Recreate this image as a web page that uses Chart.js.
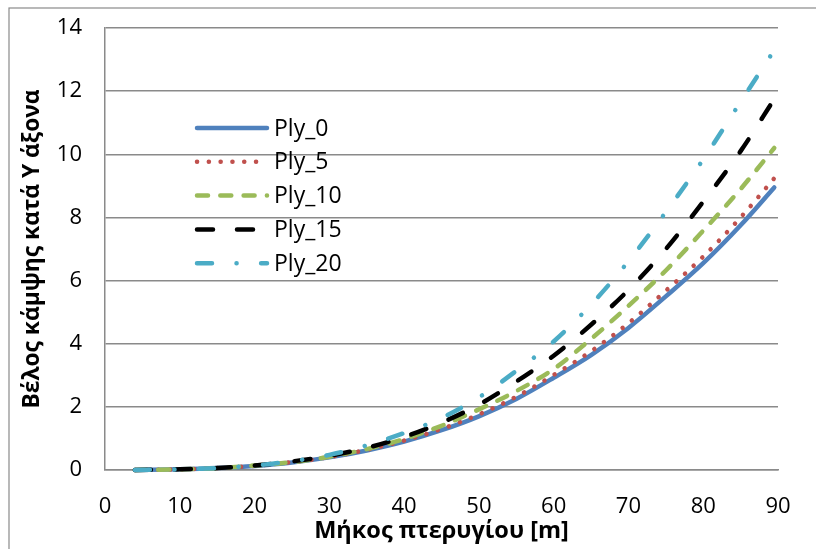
<!DOCTYPE html>
<html>
<head>
<meta charset="utf-8">
<script src="https://cdn.jsdelivr.net/npm/chart.js@4/dist/chart.umd.min.js"></script>
<style>
  html, body { margin: 0; padding: 0; background: #ffffff; }
  #wrap { width: 816px; height: 549px; position: relative; }
</style>
</head>
<body>
<div id="wrap"><canvas id="c" width="816" height="549"></canvas></div>
<script>
// Span positions along the blade [m]
const spanPositions = [4, 10, 15, 20, 25, 30, 35, 40, 45, 50, 55, 60, 65, 70, 75, 80, 85, 89.5];

// Deflection along the Y axis for each ply configuration
const ply0  = [0.00, 0.02, 0.06, 0.13, 0.24, 0.40, 0.62, 0.90, 1.26, 1.70, 2.25, 2.92, 3.64, 4.50, 5.50, 6.55, 7.75, 8.95];
const ply5  = [0.00, 0.02, 0.06, 0.13, 0.25, 0.41, 0.64, 0.93, 1.30, 1.76, 2.32, 3.01, 3.76, 4.65, 5.68, 6.76, 8.00, 9.24];
const ply10 = [0.00, 0.02, 0.06, 0.14, 0.25, 0.42, 0.66, 0.98, 1.40, 1.92, 2.50, 3.20, 4.15, 5.20, 6.32, 7.58, 8.90, 10.20];
const ply15 = [0.00, 0.02, 0.06, 0.14, 0.27, 0.45, 0.70, 1.05, 1.50, 2.07, 2.80, 3.62, 4.60, 5.70, 7.00, 8.50, 10.10, 11.75];
const ply20 = [0.00, 0.02, 0.06, 0.14, 0.28, 0.48, 0.78, 1.17, 1.65, 2.30, 3.14, 4.07, 5.24, 6.61, 8.17, 9.84, 11.66, 13.30];

const seriesNames = ['Ply_0', 'Ply_5', 'Ply_10', 'Ply_15', 'Ply_20'];
const seriesValues = [ply0, ply5, ply10, ply15, ply20];

// Axis tick labels
const xTickValues = [0, 10, 20, 30, 40, 50, 60, 70, 80, 90];
const yTickValues = [0, 2, 4, 6, 8, 10, 12, 14];

const xTitle = 'Μήκος πτερυγίου [m]';
const yTitle = 'Βέλος κάμψης κατά Υ άξονα';

// Line styles per series
const lineStyles = [
  { color: '#4F81BD', dash: [] },
  { color: '#C0504D', dash: [0.1, 11.7] },
  { color: '#9BBB59', dash: [11, 12.3] },
  { color: '#000000', dash: [16, 24] },
  { color: '#4BACC6', dash: [15, 24.5, 0.1, 24.5] }
];

const FONT = '"Open Sans", "Noto Sans", "DejaVu Sans", sans-serif';
const GRID = '#8a8a8a';

const datasets = seriesNames.map((name, i) => ({
  label: name,
  data: spanPositions.map((x, k) => ({ x: x, y: seriesValues[i][k] })),
  borderColor: lineStyles[i].color,
  backgroundColor: lineStyles[i].color,
  borderWidth: 4.5,
  borderDash: lineStyles[i].dash,
  borderCapStyle: 'round',
  borderJoinStyle: 'round',
  pointRadius: 0,
  pointHoverRadius: 0,
  cubicInterpolationMode: 'monotone',
  fill: false,
  clip: 8,
  order: seriesNames.length - i
}));

// Outer chart border (left and top edges visible)
const frame = {
  id: 'frame',
  beforeDraw(chart) {
    const ctx = chart.ctx;
    ctx.save();
    ctx.fillStyle = '#ffffff';
    ctx.fillRect(0, 0, chart.width, chart.height);
    ctx.strokeStyle = GRID;
    ctx.lineWidth = 1.2;
    ctx.strokeRect(9, 8, chart.width + 20, chart.height + 20);
    ctx.restore();
  }
};

// Legend drawn inside the plot area
const insideLegend = {
  id: 'insideLegend',
  afterDatasetsDraw(chart) {
    const ctx = chart.ctx;
    const x0 = 197, x1 = 267, tx = 274, y0 = 128, dy = 33.8;
    chart.data.datasets.forEach((ds, i) => {
      const y = y0 + i * dy;
      ctx.save();
      ctx.strokeStyle = ds.borderColor;
      ctx.lineWidth = ds.borderWidth;
      ctx.lineCap = 'round';
      ctx.setLineDash(ds.borderDash || []);
      ctx.beginPath();
      ctx.moveTo(x0, y);
      ctx.lineTo(x1, y);
      ctx.stroke();
      ctx.setLineDash([]);
      ctx.fillStyle = '#000000';
      ctx.font = '23px ' + FONT;
      ctx.textBaseline = 'middle';
      ctx.textAlign = 'left';
      ctx.fillText(ds.label, tx, y + 1);
      ctx.restore();
    });
  }
};

new Chart(document.getElementById('c'), {
  type: 'line',
  data: { datasets: datasets },
  plugins: [frame, insideLegend],
  options: {
    responsive: false,
    devicePixelRatio: 1,
    animation: false,
    events: [],
    layout: { padding: { left: 0, top: 28, right: 38, bottom: 0 } },
    plugins: {
      legend: { display: false },
      tooltip: { enabled: false },
      title: { display: false }
    },
    scales: {
      x: {
        type: 'linear',
        min: 0,
        max: 90,
        afterBuildTicks(scale) { scale.ticks = xTickValues.map(v => ({ value: v })); },
        afterFit(scale) {
          scale.height = 79;
          scale.paddingLeft = 0;
          scale.paddingRight = 0;
        },
        grid: { display: false, drawTicks: false },
        border: { display: true, color: GRID, width: 1.5 },
        ticks: { color: '#000000', font: { family: FONT, size: 22 }, padding: 24, maxRotation: 0 },
        title: {
          display: true,
          text: xTitle,
          color: '#000000',
          font: { family: FONT, size: 23.5, weight: 'bold' },
          padding: { top: 0, bottom: 4 }
        }
      },
      y: {
        type: 'linear',
        min: 0,
        max: 14,
        afterBuildTicks(scale) { scale.ticks = yTickValues.map(v => ({ value: v })); },
        afterFit(scale) {
          scale.width = 105;
          scale.paddingTop = 0;
          scale.paddingBottom = 0;
        },
        grid: { display: true, drawTicks: false, color: GRID, lineWidth: 1.5 },
        border: { display: true, color: GRID, width: 1.5 },
        ticks: { color: '#000000', font: { family: FONT, size: 22 }, padding: 23 },
        title: {
          display: true,
          text: yTitle,
          color: '#000000',
          font: { family: FONT, size: 22.8, weight: 'bold' },
          padding: { top: 19, bottom: 0 }
        }
      }
    }
  }
});
</script>
</body>
</html>
